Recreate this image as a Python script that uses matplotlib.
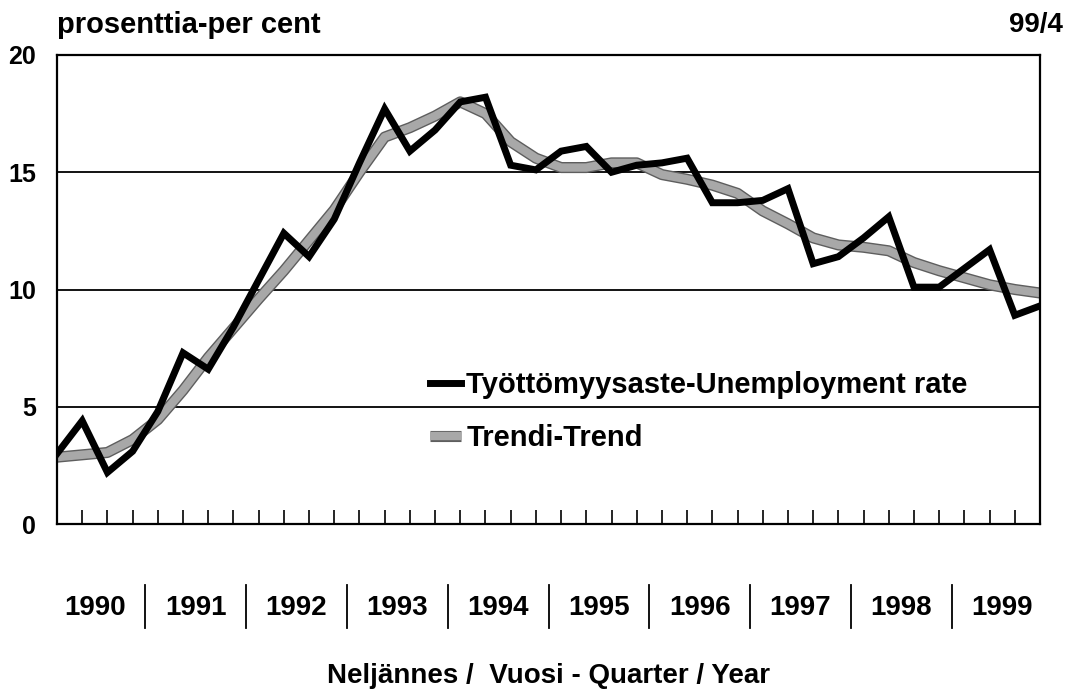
import matplotlib
matplotlib.use("Agg")
import matplotlib.pyplot as plt
import matplotlib.transforms as mtransforms
import matplotlib.patheffects as pe
import numpy as np

plt.rcParams['font.family'] = ['Liberation Sans', 'DejaVu Sans']
plt.rcParams['font.weight'] = 'bold'

years = ['1990', '1991', '1992', '1993', '1994', '1995', '1996', '1997', '1998', '1999']
unemployment = [3.0, 4.4, 2.2, 3.1, 4.8, 7.3, 6.6, 8.4, 10.4, 12.4,
                11.4, 13.0, 15.4, 17.7, 15.9, 16.8, 18.0, 18.2, 15.3, 15.1,
                15.9, 16.1, 15.0, 15.3, 15.4, 15.6, 13.7, 13.7, 13.8, 14.3,
                11.1, 11.4, 12.2, 13.1, 10.1, 10.1, 10.9, 11.7, 8.9, 9.3]
trend = [2.85, 2.95, 3.05, 3.6, 4.45, 5.7, 7.1, 8.35, 9.6, 10.8,
         12.1, 13.4, 15.0, 16.5, 16.9, 17.4, 18.0, 17.5, 16.3, 15.6,
         15.2, 15.2, 15.4, 15.4, 14.9, 14.7, 14.45, 14.1, 13.35, 12.8,
         12.2, 11.9, 11.8, 11.65, 11.15, 10.8, 10.5, 10.2, 10.0, 9.85]

x = np.arange(len(unemployment))

fig = plt.figure(figsize=(10.69, 6.94), dpi=100)
ax = fig.add_axes([57/1069, 1-524/694, (1040-57)/1069, (524-55)/694])

for yv in [5, 10, 15]:
    ax.axhline(yv, color='black', lw=1.3, zorder=1)

ax.plot(x, trend, color='#a8a8a8', lw=6.0, solid_capstyle='butt', zorder=2,
        label='Trendi-Trend',
        path_effects=[pe.Stroke(linewidth=8.0, foreground='#5e5e5e'), pe.Normal()])
ax.plot(x, unemployment, color='black', lw=5.0, solid_joinstyle='miter', zorder=3,
        label='Työttömyysaste-Unemployment rate')

ax.set_xlim(0, len(x) - 1)
ax.set_ylim(0, 20)
ax.set_yticks([0, 5, 10, 15, 20])
ax.tick_params(axis='y', length=0, pad=15, labelsize=18)
ax.set_xticks(x[1:-1])
ax.set_xticklabels([])
ax.tick_params(axis='x', direction='in', length=10, width=1.2, color='black')
for s in ax.spines.values():
    s.set_linewidth(1.6)

# year labels and separators
trans = mtransforms.blended_transform_factory(ax.transData, ax.transAxes)
for i, yr in enumerate(years):
    ax.text(4 * i + 1.5, -0.179, yr, transform=trans, ha='center', va='center',
            fontsize=20, fontweight='bold')
for i in range(1, len(years)):
    ax.plot([4 * i - 0.5, 4 * i - 0.5], [-0.130, -0.222], transform=trans,
            color='black', lw=1.3, clip_on=False)

fig.text(0.5 * (57 + 1040) / 1069, 1 - 676/694, 'Neljännes /  Vuosi - Quarter / Year',
         ha='center', va='center', fontsize=20, fontweight='bold')
fig.text(57/1069, 1 - 25/694, 'prosenttia-per cent', ha='left', va='center',
         fontsize=21, fontweight='bold')
fig.text(1063/1069, 1 - 25/694, '99/4', ha='right', va='center',
         fontsize=20, fontweight='bold')

handles, labels = ax.get_legend_handles_labels()
leg = ax.legend(handles[::-1], labels[::-1], loc='upper left',
                bbox_to_anchor=((430-57)/983, (524-371)/469), frameon=False,
                fontsize=21, handlelength=1.05, handletextpad=0.2,
                labelspacing=0.85, borderaxespad=0, borderpad=0)

fig.savefig('out.png', dpi=100)
